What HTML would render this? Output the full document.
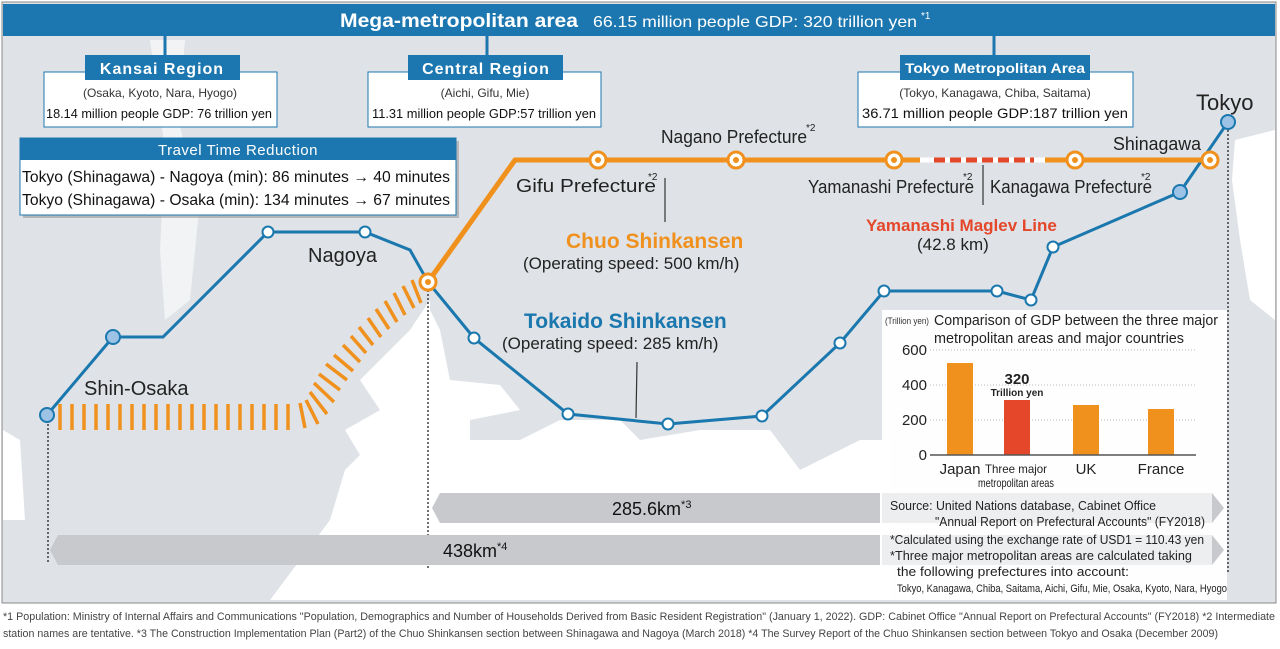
<!DOCTYPE html>
<html><head><meta charset="utf-8"><style>
html,body{margin:0;padding:0;background:#fff;}
svg{display:block;font-family:"Liberation Sans",sans-serif;}
</style></head><body>
<svg width="1280" height="649" viewBox="0 0 1280 649" xmlns="http://www.w3.org/2000/svg">
<rect x="2" y="2" width="1274" height="601" fill="#dfe2e6" stroke="#888" stroke-width="1"/>
<path d="M345,470 L360,455 L345,430 L380,410 L360,380 L410,330 L430,300 L430,470 L470,470 L470,440 L520,440 L560,420 L620,420 L640,440 L700,430 L770,430 L800,470 L860,440 L890,440 L890,600 L270,600 L300,560 L330,520 Z" fill="#fff"/>
<path d="M440,330 L450,380 L500,385 L520,410 L470,420 L470,470 L430,470 L430,310 Z" fill="#fff"/>
<path d="M3,430 L20,440 L25,520 L3,520 Z" fill="#fff"/>
<path d="M150,40 L185,40 L178,120 L200,200 L190,300 L165,320 L160,250 L165,150 Z" fill="#f2f3f5"/>
<path d="M1235,140 L1275,130 L1275,320 L1250,300 L1240,240 L1232,180 Z" fill="#fff"/>
<rect x="3" y="4" width="1272" height="32" fill="#1c77b0"/>
<text x="340" y="27" fill="#fff" font-size="19" font-weight="bold" textLength="238" lengthAdjust="spacingAndGlyphs">Mega-metropolitan area</text>
<text x="593" y="27" fill="#fff" font-size="16" textLength="324" lengthAdjust="spacingAndGlyphs">66.15 million people GDP: 320 trillion yen</text>
<text x="921" y="19" fill="#fff" font-size="10">*1</text>
<line x1="165" y1="35" x2="165" y2="56" stroke="#1c77b0" stroke-width="3"/>
<line x1="487" y1="35" x2="487" y2="56" stroke="#1c77b0" stroke-width="3"/>
<line x1="994" y1="35" x2="994" y2="56" stroke="#1c77b0" stroke-width="3"/>
<rect x="44" y="72" width="233" height="55" fill="#fff" stroke="#1c77b0"/>
<rect x="85" y="55" width="155" height="25" fill="#1c77b0"/>
<text x="162" y="74" fill="#fff" font-size="16" font-weight="bold" text-anchor="middle" letter-spacing="1">Kansai Region</text>
<text x="160" y="97" fill="#333" font-size="12" text-anchor="middle">(Osaka, Kyoto, Nara, Hyogo)</text>
<text x="46" y="118" fill="#111" font-size="13" textLength="226" lengthAdjust="spacingAndGlyphs">18.14 million people GDP: 76 trillion yen</text>
<rect x="368" y="72" width="233" height="55" fill="#fff" stroke="#1c77b0"/>
<rect x="408" y="55" width="155" height="25" fill="#1c77b0"/>
<text x="486" y="74" fill="#fff" font-size="16" font-weight="bold" text-anchor="middle" letter-spacing="1">Central Region</text>
<text x="485" y="97" fill="#333" font-size="12" text-anchor="middle">(Aichi, Gifu, Mie)</text>
<text x="372" y="118" fill="#111" font-size="13" textLength="224" lengthAdjust="spacingAndGlyphs">11.31 million people GDP:57 trillion yen</text>
<rect x="858" y="72" width="275" height="55" fill="#fff" stroke="#1c77b0"/>
<rect x="900" y="55" width="190" height="25" fill="#1c77b0"/>
<text x="995" y="73" fill="#fff" font-size="14" font-weight="bold" text-anchor="middle" textLength="180" lengthAdjust="spacingAndGlyphs">Tokyo Metropolitan Area</text>
<text x="995" y="97" fill="#333" font-size="12" text-anchor="middle">(Tokyo, Kanagawa, Chiba, Saitama)</text>
<text x="862" y="118" fill="#111" font-size="14" textLength="266" lengthAdjust="spacingAndGlyphs">36.71 million people GDP:187 trillion yen</text>
<rect x="23" y="141" width="436" height="77" fill="#999" opacity="0.6"/>
<rect x="20" y="138" width="436" height="77" fill="#fff" stroke="#1c77b0"/>
<rect x="20" y="138" width="436" height="22" fill="#1c77b0"/>
<text x="238" y="155" fill="#fff" font-size="15" text-anchor="middle" letter-spacing="0.5">Travel Time Reduction</text>
<text x="22" y="182" fill="#111" font-size="16" textLength="428" lengthAdjust="spacingAndGlyphs">Tokyo (Shinagawa) - Nagoya (min): 86 minutes → 40 minutes</text>
<text x="22" y="205" fill="#111" font-size="16" textLength="428" lengthAdjust="spacingAndGlyphs">Tokyo (Shinagawa) - Osaka (min): 134 minutes → 67 minutes</text>
<g stroke="#222" stroke-width="1.3" stroke-dasharray="2,2">
<line x1="48" y1="420" x2="48" y2="562"/>
<line x1="428" y1="290" x2="428" y2="568"/>
<line x1="1228" y1="130" x2="1228" y2="572"/>
</g>
<rect x="882" y="310" width="345" height="290" fill="#fff" opacity="0.95"/>
<path d="M440,493 L880,493 L880,523 L440,523 L432,508 Z" fill="#c7c9cc"/>
<path d="M882,493 L1212,493 L1222,508 L1212,523 L882,523 Z" fill="#eceef0"/>
<path d="M1212,493 L1224,508 L1212,523 Z" fill="#c7c9cc"/>
<text x="612" y="515" font-size="18" fill="#111">285.6km<tspan font-size="11" dy="-7">*3</tspan></text>
<path d="M58,535 L880,535 L880,565 L58,565 L50,550 Z" fill="#c7c9cc"/>
<path d="M882,535 L1212,535 L1212,565 L882,565 Z" fill="#eceef0"/>
<path d="M1212,535 L1224,550 L1212,565 Z" fill="#c7c9cc"/>
<text x="443" y="557" font-size="18" fill="#111">438km<tspan font-size="11" dy="-7">*4</tspan></text>
<g stroke="#f0911e" stroke-width="3.5">
<path d="M60,404V430M72,404V430M84,404V430M96,404V430M108,404V430M120,404V430M132,404V430M144,404V430M156,404V430M168,404V430M180,404V430M192,404V430M204,404V430M216,404V430M228,404V430M240,404V430M252,404V430M264,404V430M276,404V430M288,404V430M300,403L305,428"/>
<path d="M306,400L318,424M310,392L327,414M314,383L334,402M319,374L340,390M326,364L347,380M334,355L353,371M343,345L360,362M351,336L366,353M359,327L373,345M368,318L381,337M376,309L389,329M385,301L397,322M394,293L405,315M403,286L414,308M412,280L421,303"/>
</g>
<polyline points="47,415 113,337 163,337 268,232 365,232 410,250 428,282 474,338 568,414 668,424 762,416 840,343 884,291 997,291 1031,300 1053,247 1180,192 1228,122" fill="none" stroke="#1a78ae" stroke-width="3"/>
<g fill="#fff" stroke="#1a78ae" stroke-width="2">
<circle cx="268" cy="232" r="5.5"/><circle cx="365" cy="232" r="5.5"/><circle cx="474" cy="338" r="5.5"/><circle cx="568" cy="414" r="5.5"/><circle cx="668" cy="424" r="5.5"/><circle cx="762" cy="416" r="5.5"/><circle cx="840" cy="343" r="5.5"/><circle cx="884" cy="291" r="5.5"/><circle cx="997" cy="291" r="5.5"/><circle cx="1031" cy="300" r="5.5"/><circle cx="1053" cy="247" r="5.5"/>
</g>
<g fill="#9cc3e6" stroke="#1a78ae" stroke-width="2">
<circle cx="113" cy="337" r="7"/><circle cx="47" cy="415" r="7"/><circle cx="1180" cy="192" r="7"/><circle cx="1228" cy="122" r="7"/>
</g>
<polyline points="428,282 515,160 920,160" fill="none" stroke="#f0911e" stroke-width="5"/>
<line x1="1045" y1="160" x2="1210" y2="160" stroke="#f0911e" stroke-width="5"/>
<line x1="920" y1="160" x2="1045" y2="160" stroke="#fff" stroke-width="5"/>
<line x1="934" y1="160" x2="1034" y2="160" stroke="#e4472a" stroke-width="5" stroke-dasharray="11,5"/>
<g fill="#fff" stroke="#f0911e" stroke-width="3">
<circle cx="428" cy="282" r="8"/><circle cx="598" cy="160" r="8"/><circle cx="736" cy="160" r="8"/><circle cx="894" cy="160" r="8"/><circle cx="1075" cy="160" r="8"/><circle cx="1210" cy="160" r="8"/>
</g>
<g fill="#f0911e"><circle cx="428" cy="282" r="3"/><circle cx="598" cy="160" r="3"/><circle cx="736" cy="160" r="3"/><circle cx="894" cy="160" r="3"/><circle cx="1075" cy="160" r="3"/><circle cx="1210" cy="160" r="3"/></g>
<g stroke="#333" stroke-width="1.2">
<line x1="665" y1="178" x2="665" y2="222"/>
<line x1="983" y1="165" x2="983" y2="205"/>
<line x1="637" y1="362" x2="636" y2="418"/>
</g>
<g fill="#222">
<text x="308" y="262" font-size="20">Nagoya</text>
<text x="84" y="395" font-size="20">Shin-Osaka</text>
<text x="1196" y="110" font-size="22">Tokyo</text>
<text x="1113" y="150" font-size="18" textLength="88" lengthAdjust="spacingAndGlyphs">Shinagawa</text>
<text x="661" y="143" font-size="18" textLength="146" lengthAdjust="spacingAndGlyphs">Nagano Prefecture</text>
<text x="806" y="131" font-size="10">*2</text>
<text x="516" y="192" font-size="18" textLength="140" lengthAdjust="spacingAndGlyphs">Gifu Prefecture</text>
<text x="648" y="180" font-size="10">*2</text>
<text x="808" y="193" font-size="18" textLength="166" lengthAdjust="spacingAndGlyphs">Yamanashi Prefecture</text>
<text x="963" y="180" font-size="10">*2</text>
<text x="990" y="193" font-size="18" textLength="162" lengthAdjust="spacingAndGlyphs">Kanagawa Prefecture</text>
<text x="1141" y="180" font-size="10">*2</text>
</g>
<text x="566" y="248" font-size="21" font-weight="bold" fill="#f0911e">Chuo Shinkansen</text>
<text x="523" y="269" font-size="17" fill="#222">(Operating speed: 500 km/h)</text>
<text x="524" y="328" font-size="21" font-weight="bold" fill="#1a78ae">Tokaido Shinkansen</text>
<text x="502" y="349" font-size="17" fill="#222">(Operating speed: 285 km/h)</text>
<text x="866" y="231" font-size="17" font-weight="bold" fill="#e4472a">Yamanashi Maglev Line</text>
<text x="917" y="250" font-size="17" fill="#222">(42.8 km)</text>
<text x="885" y="324" font-size="9" fill="#333" textLength="44" lengthAdjust="spacingAndGlyphs">(Trillion yen)</text>
<text x="934" y="325" font-size="15" fill="#222" textLength="284" lengthAdjust="spacingAndGlyphs">Comparison of GDP between the three major</text>
<text x="934" y="343" font-size="15" fill="#222" textLength="250" lengthAdjust="spacingAndGlyphs">metropolitan areas and major countries</text>
<g stroke="#bbb" stroke-dasharray="1,2"><line x1="930" y1="350" x2="1196" y2="350"/><line x1="930" y1="385" x2="1196" y2="385"/><line x1="930" y1="420" x2="1196" y2="420"/></g>
<g font-size="15" fill="#222" text-anchor="end"><text x="927" y="355">600</text><text x="927" y="390">400</text><text x="927" y="425">200</text><text x="927" y="460">0</text></g>
<rect x="947" y="363" width="26" height="92" fill="#f0911e"/>
<rect x="1004" y="400" width="26" height="55" fill="#e4472a"/>
<rect x="1073" y="405" width="26" height="50" fill="#f0911e"/>
<rect x="1148" y="409" width="26" height="46" fill="#f0911e"/>
<line x1="930" y1="455" x2="1196" y2="455" stroke="#555" stroke-width="1.5"/>
<text x="1017" y="384" font-size="15" font-weight="bold" fill="#222" text-anchor="middle">320</text>
<text x="1017" y="396" font-size="10" font-weight="bold" fill="#222" text-anchor="middle">Trillion yen</text>
<g fill="#222"><text x="960" y="474" font-size="15" text-anchor="middle">Japan</text>
<text x="1016" y="473" font-size="12" text-anchor="middle" textLength="62" lengthAdjust="spacingAndGlyphs">Three major</text>
<text x="1016" y="487" font-size="12" text-anchor="middle" textLength="76" lengthAdjust="spacingAndGlyphs">metropolitan areas</text>
<text x="1086" y="474" font-size="15" text-anchor="middle">UK</text>
<text x="1161" y="474" font-size="15" text-anchor="middle">France</text>
<text x="890" y="510" font-size="13" textLength="266" lengthAdjust="spacingAndGlyphs">Source: United Nations database, Cabinet Office</text>
<text x="935" y="526" font-size="13" textLength="270" lengthAdjust="spacingAndGlyphs">"Annual Report on Prefectural Accounts" (FY2018)</text>
<text x="890" y="544" font-size="13" textLength="314" lengthAdjust="spacingAndGlyphs">*Calculated using the exchange rate of USD1 = 110.43 yen</text>
<text x="890" y="560" font-size="13" textLength="302" lengthAdjust="spacingAndGlyphs">*Three major metropolitan areas are calculated taking</text>
<text x="897" y="576" font-size="13" textLength="232" lengthAdjust="spacingAndGlyphs">the following prefectures into account:</text>
<text x="897" y="592" font-size="11" textLength="330" lengthAdjust="spacingAndGlyphs">Tokyo, Kanagawa, Chiba, Saitama, Aichi, Gifu, Mie, Osaka, Kyoto, Nara, Hyogo</text>
</g>
<text x="3" y="620" font-size="11" fill="#444" textLength="1272" lengthAdjust="spacingAndGlyphs">*1 Population: Ministry of Internal Affairs and Communications "Population, Demographics and Number of Households Derived from Basic Resident Registration" (January 1, 2022). GDP: Cabinet Office "Annual Report on Prefectural Accounts" (FY2018) *2 Intermediate</text>
<text x="3" y="637" font-size="11" fill="#444" textLength="1215" lengthAdjust="spacingAndGlyphs">station names are tentative. *3 The Construction Implementation Plan (Part2) of the Chuo Shinkansen section between Shinagawa and Nagoya (March 2018) *4 The Survey Report of the Chuo Shinkansen section between Tokyo and Osaka (December 2009)</text>
</svg>
</body></html>
